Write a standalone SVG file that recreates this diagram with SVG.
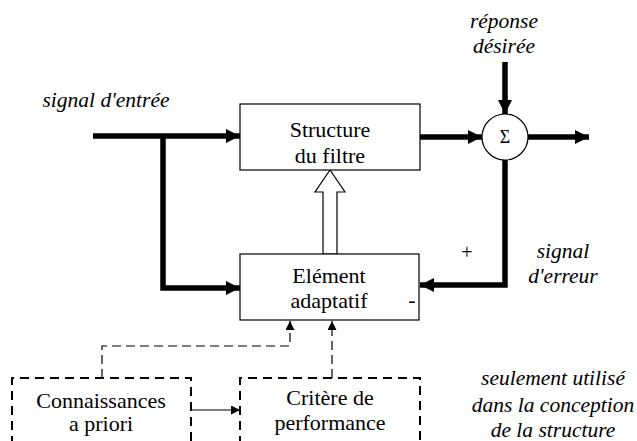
<svg xmlns="http://www.w3.org/2000/svg" width="637" height="441" viewBox="0 0 637 441">
<defs>
<marker id="big" markerWidth="14" markerHeight="14" refX="14" refY="7" orient="auto" markerUnits="userSpaceOnUse"><path d="M0,0 L14,7 L0,14 Z" fill="#000"/></marker>
<marker id="small" markerWidth="9" markerHeight="9" refX="9" refY="4.5" orient="auto" markerUnits="userSpaceOnUse"><path d="M0,0 L9,4.5 L0,9 Z" fill="#000"/></marker>
</defs>
<style>
text{font-family:'Liberation Serif','Times New Roman',serif;text-anchor:middle;fill:#000}
.lbl{font-size:22px}
.it{font-size:21.5px;font-style:italic}
.box{fill:#fff;stroke:#000;stroke-width:1.2}
.dbox{fill:none;stroke:#000;stroke-width:2;stroke-dasharray:9,6}
.thick{fill:none;stroke:#000;stroke-width:5.5;stroke-linejoin:miter;stroke-linecap:butt}
.dash{fill:none;stroke:#000;stroke-width:1.2;stroke-dasharray:9,5}
.thin{fill:none;stroke:#000;stroke-width:1.2}
</style>
<rect width="637" height="441" fill="#fff"/>
<g id="connectors">
<path class="thick" d="M93,136 H240" marker-end="url(#big)"/>
<path class="thick" d="M163,136 V288 H240" marker-end="url(#big)"/>
<path class="thick" d="M420,137 H482" marker-end="url(#big)"/>
<path class="thick" d="M505,62 V114" marker-end="url(#big)"/>
<path class="thick" d="M528,137 H589" marker-end="url(#big)"/>
<path class="thick" d="M505,160 V285 H420" marker-end="url(#big)"/>
<path d="M323,254 V192 H315 L330,170 L345,192 H337 V254 Z" fill="#fff" stroke="#000" stroke-width="1.2"/>
<path class="dash" d="M102,378 V346 H290 V321" marker-end="url(#small)"/>
<path class="dash" d="M332,378 V321" marker-end="url(#small)"/>
<path class="thin" d="M191,410 H240" marker-end="url(#small)"/>
</g>
<g id="node-structure">
<rect class="box" x="240" y="104" width="180" height="66"/>
<text class="lbl" x="330" y="137">Structure</text>
<text class="lbl" x="330" y="163">du filtre</text>
</g>
<g id="node-element">
<rect class="box" x="240" y="254" width="179" height="66"/>
<text class="lbl" x="329" y="283">Elément</text>
<text class="lbl" x="329" y="308">adaptatif</text>
<text class="lbl" x="412" y="307">-</text>
</g>
<g id="node-sum">
<circle cx="505" cy="137" r="23" fill="#fff" stroke="#000" stroke-width="1.2"/>
<text x="505" y="143" font-size="18">Σ</text>
</g>
<g id="node-connaissances">
<path class="dbox" d="M12,445 V378 H191 V445"/>
<text class="lbl" x="101" y="408">Connaissances</text>
<text class="lbl" x="101" y="431">a priori</text>
</g>
<g id="node-critere">
<path class="dbox" d="M240,445 V378 H420 V445"/>
<text class="lbl" x="330" y="405">Critère de</text>
<text class="lbl" x="330" y="430">performance</text>
</g>
<g id="labels">
<text class="it" x="106" y="107">signal d'entrée</text>
<text class="it" x="504" y="28">réponse</text>
<text class="it" x="504" y="53">désirée</text>
<text x="467" y="259" font-size="20">+</text>
<text class="it" x="563" y="258">signal</text>
<text class="it" x="563" y="283">d'erreur</text>
<text class="it" x="553" y="385">seulement utilisé</text>
<text class="it" x="553" y="412">dans la conception</text>
<text class="it" x="553" y="437">de la structure</text>
</g>
</svg>
